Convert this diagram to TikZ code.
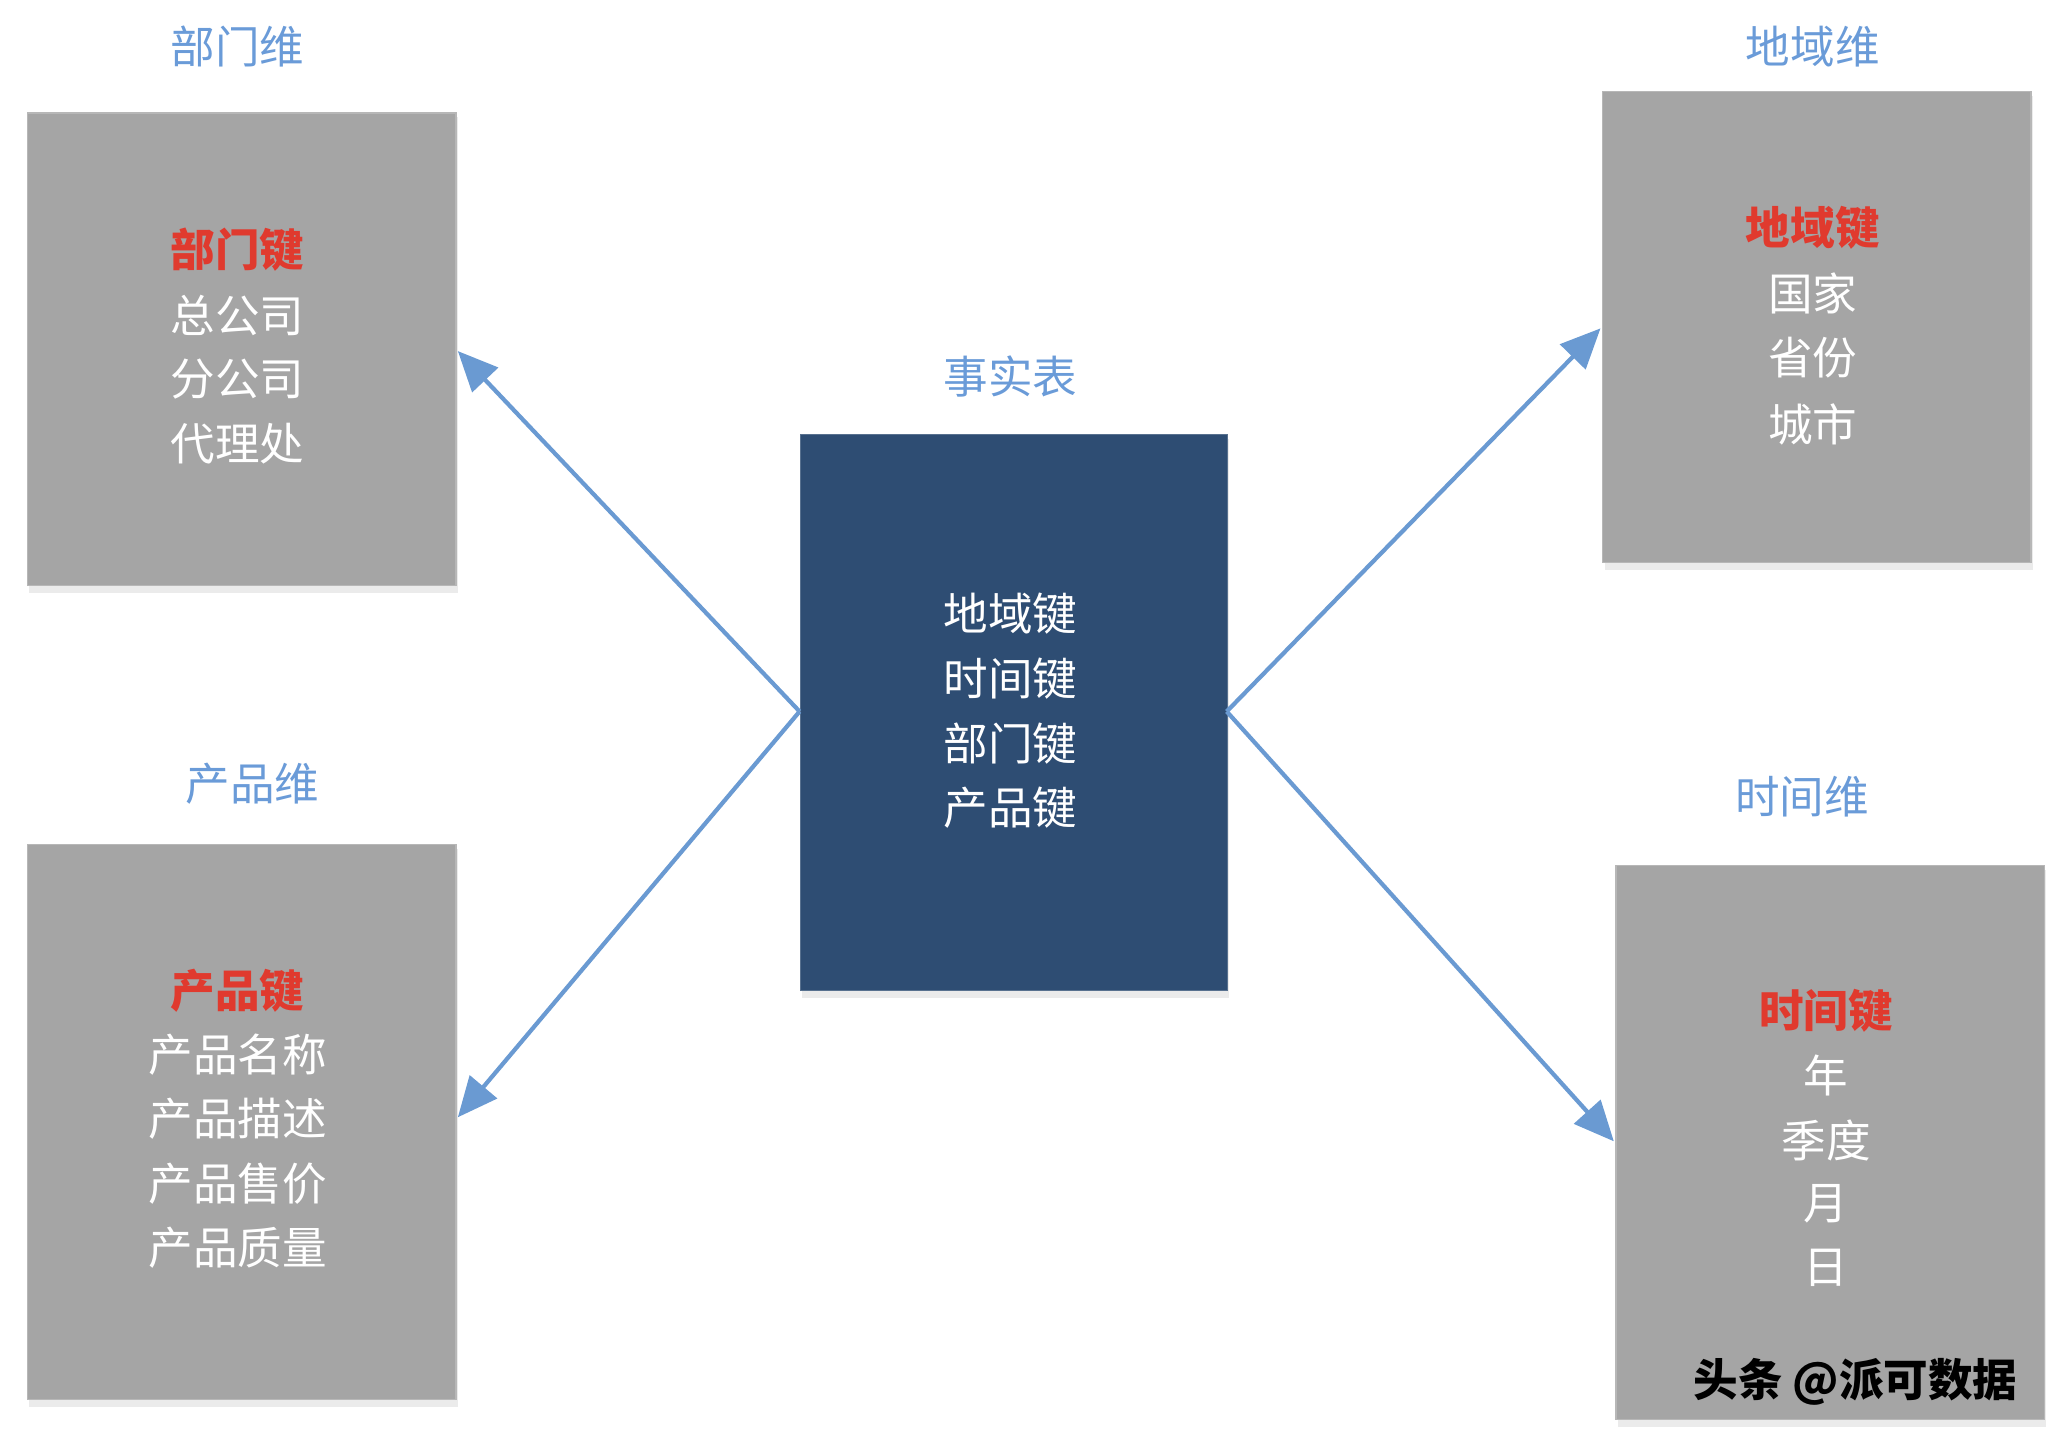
\documentclass[tikz,border=0pt]{standalone}
\usepackage{fontspec}
\setmainfont{Noto Sans CJK SC}
\usetikzlibrary{arrows.meta}
\definecolor{boxgray}{HTML}{A5A5A5}
\definecolor{factblue}{HTML}{2E4D73}
\definecolor{titleblue}{HTML}{6A9BD8}
\definecolor{keyred}{HTML}{E03A2E}
\definecolor{arrowblue}{HTML}{6A9AD2}
\tikzset{
  dimbox/.style={fill=boxgray, draw=boxgray!80!white, line width=0.6pt},
  factbox/.style={fill=factblue, draw=factblue!80!white},
  ttl/.style={text=titleblue, font=\fontsize{19}{22}\selectfont},
  txt/.style={text=white, font=\fontsize{19}{22}\selectfont},
  key/.style={text=keyred, font=\bfseries\fontsize{19}{22}\selectfont},
  conn/.style={draw=arrowblue, line width=1.8pt, -{Triangle[length=17pt,width=15pt]}}
}
\begin{document}
\begin{tikzpicture}[x=0.02cm,y=-0.02cm]
\useasboundingbox (0,0) rectangle (1550,1079);
\foreach \a/\b/\c/\d in {20/84/341/438, 1200/68/1521/421, 20/632/341/1048, 1210/648/1531/1063, 599/325/919/742}
  \fill[black!8] (\a+2,\b+4) rectangle (\c+2,\d+6);
\node[dimbox, minimum width=321*0.02cm, minimum height=354*0.02cm, anchor=north west] (dept) at (20,84) {};
\node[dimbox, minimum width=321*0.02cm, minimum height=353*0.02cm, anchor=north west] (reg) at (1200,68) {};
\node[dimbox, minimum width=321*0.02cm, minimum height=416*0.02cm, anchor=north west] (prod) at (20,632) {};
\node[dimbox, minimum width=321*0.02cm, minimum height=415*0.02cm, anchor=north west] (time) at (1210,648) {};
\node[factbox, minimum width=320*0.02cm, minimum height=417*0.02cm, anchor=north west] (fact) at (599,325) {};
\node[ttl] (t1) at (178,35) {部门维};
\node[ttl] (t2) at (1358,35) {地域维};
\node[ttl] (t3) at (189,587) {产品维};
\node[ttl] (t4) at (1350,597) {时间维};
\node[ttl] (t5) at (757,282) {事实表};
\node[key] (d0) at (178,187) {部门键};
\node[txt] (d1) at (178,236) {总公司};
\node[txt] (d2) at (178,284) {分公司};
\node[txt] (d3) at (178,332) {代理处};
\node[key] (r0) at (1358,171) {地域键};
\node[txt] (r1) at (1358,220) {国家};
\node[txt] (r2) at (1358,268) {省份};
\node[txt] (r3) at (1358,318) {城市};
\node[key] (p0) at (178,742) {产品键};
\node[txt] (p1) at (178,790) {产品名称};
\node[txt] (p2) at (178,838) {产品描述};
\node[txt] (p3) at (178,887) {产品售价};
\node[txt] (p4) at (178,935) {产品质量};
\node[key] (m0) at (1368,757) {时间键};
\node[txt] (m1) at (1368,806) {年};
\node[txt] (m2) at (1368,854) {季度};
\node[txt] (m3) at (1368,902) {月};
\node[txt] (m4) at (1368,950) {日};
\node[txt] (f0) at (757,460) {地域键};
\node[txt] (f1) at (757,508) {时间键};
\node[txt] (f2) at (757,557) {部门键};
\node[txt] (f3) at (757,605) {产品键};
\coordinate (fl) at (599,533);
\coordinate (fr) at (919,533);
\coordinate (a1) at (343,263);
\coordinate (a2) at (343,837);
\coordinate (a3) at (1199,246);
\coordinate (a4) at (1209,855);
\draw[conn] (fl) -- (a1);
\draw[conn] (fl) -- (a2);
\draw[conn] (fr) -- (a3);
\draw[conn] (fr) -- (a4);
\node[text=black, font=\bfseries\fontsize{19}{22}\selectfont] (wm) at (1390,1035) {头条 @派可数据};
\end{tikzpicture}
\end{document}
